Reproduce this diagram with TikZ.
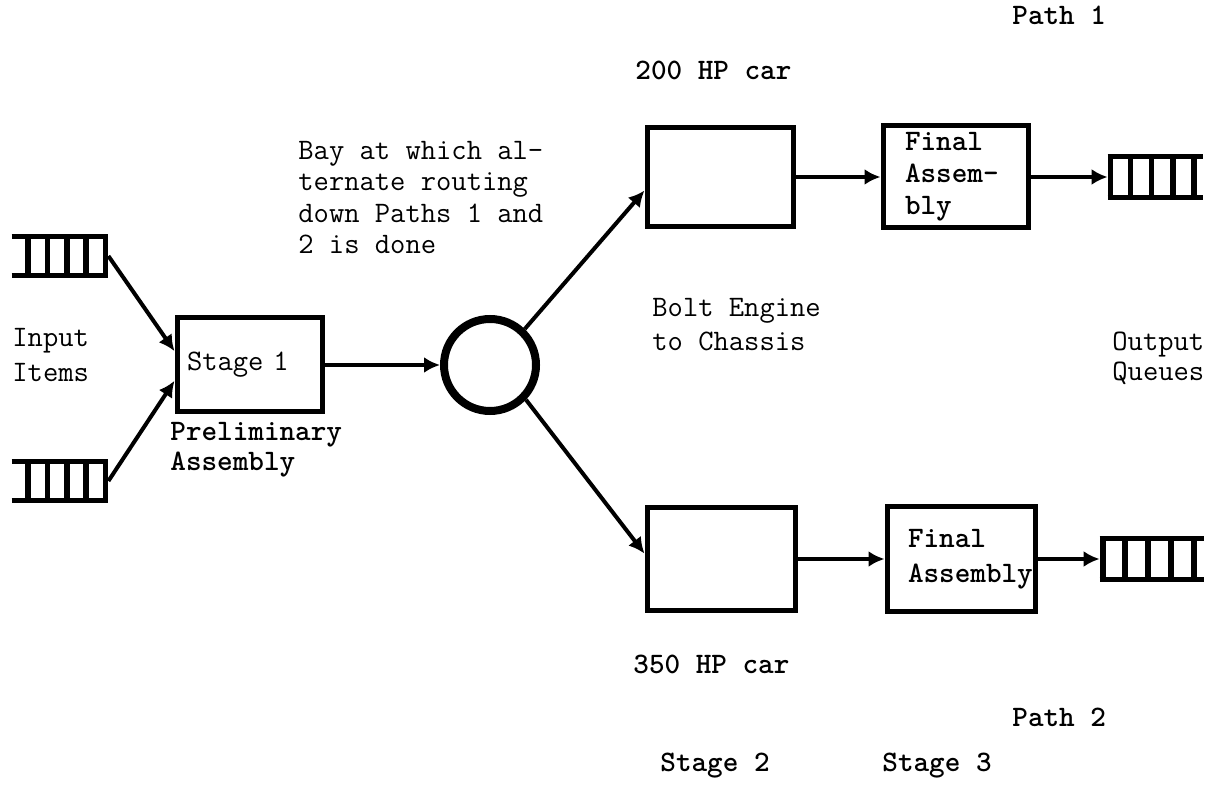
\documentclass[tikz,border=0pt]{standalone}
\usetikzlibrary{arrows.meta,calc}
\begin{document}
\begin{tikzpicture}[x=0.5pt,y=-0.5pt,
  every node/.style={font=\ttfamily\fontsize{14.86}{16}\selectfont},
  lbl/.style={inner sep=0pt,anchor=west,align=left},
  blbl/.style={lbl,font=\ttfamily\bfseries\fontsize{14.86}{16}\selectfont},
  stagebox/.style={draw,line width=2.5pt,rectangle,inner ysep=0pt,align=left},
  qnode/.style={inner sep=0pt,draw=none,minimum width=#1,minimum height=19pt},
  qline/.style={line width=2.2pt},
  qbar/.style={line width=2.8pt},
  flow/.style={line width=2pt,-{Latex[length=8pt,width=8pt]}},
  bay/.style={draw,circle,line width=4pt,minimum size=46pt,inner sep=0pt}]
\useasboundingbox (0,0) rectangle (1220,785);

% queues
\node[qnode=48pt] (q1) at (60,256) {};
\node[qnode=48pt] (q2) at (60,481) {};
\node[qnode=47.5pt,minimum height=20pt] (o1) at (1155.5,177) {};
\node[qnode=52pt,minimum height=20pt] (o2) at (1152,559) {};
\foreach \q in {q1,q2} {
  \draw[qline] (\q.north west) -- (\q.north east) (\q.south west) -- (\q.south east);
  \foreach \f in {0.17,0.37,0.57,0.77,0.97}
    \draw[qbar] ($(\q.south west)!\f!(\q.south east)$) -- ($(\q.north west)!\f!(\q.north east)$);
}
\foreach \q in {o1,o2} {
  \draw[qline] (\q.north west) -- (\q.north east) (\q.south west) -- (\q.south east);
  \foreach \f in {0.03,0.24,0.46,0.68,0.9}
    \draw[qbar] ($(\q.south west)!\f!(\q.south east)$) -- ($(\q.north west)!\f!(\q.north east)$);
}

% boxes
\node[stagebox,inner xsep=5pt,text width=62.5pt,minimum height=47pt] (s1) at (249.5,365) {Stage 1};
\node[bay] (c) at (490,365) {};
\node[stagebox,minimum width=73pt,minimum height=49.5pt] (b1) at (720,177) {};
\node[stagebox,minimum width=74pt,minimum height=51.5pt] (b2) at (721,559) {};
\node[stagebox,inner xsep=11pt,text width=50.5pt,minimum height=51pt,
  font=\ttfamily\bfseries\fontsize{14.86}{16}\selectfont] (f1) at (955.5,177) {Final\\Assem-\\bly};
\node[stagebox,inner xsep=10.5pt,text width=53pt,minimum height=52.5pt,
  font=\ttfamily\bfseries\fontsize{14.86}{17.5}\selectfont] (f2) at (961,559) {Final\\Assembly};

% connectors
\draw[flow] (q1.east) -- ($(s1.north west)!0.36!(s1.south west)$);
\draw[flow] (q2.east) -- ($(s1.north west)!0.66!(s1.south west)$);
\draw[flow] (s1.east) -- (c.west);
\draw[flow] (c.46) -- ($(b1.north west)!0.63!(b1.south west)$);
\draw[flow] (c.-44) -- ($(b2.north west)!0.45!(b2.south west)$);
\draw[flow] (b1.east) -- (f1.west);
\draw[flow] (b2.east) -- (f2.west);
\draw[flow] (f1.east) -- (o1.west);
\draw[flow] (f2.east) -- (o2.west);

% labels
\node[blbl] (p1) at (1012,15) {Path 1};
\node[blbl] (hp200) at (635,70) {200 HP car};
\node[lbl,font=\ttfamily\fontsize{14.86}{15.8}\selectfont] (baytxt) at (298,197.5) {Bay at which al-\\ternate routing\\down Paths 1 and\\2 is done};
\node[lbl,font=\ttfamily\fontsize{14.86}{17}\selectfont] (bolt) at (652,325) {Bolt Engine\\to Chassis};
\node[lbl,font=\ttfamily\fontsize{14.86}{17.5}\selectfont] (inp) at (12,355) {Input\\Items};
\node[blbl,font=\ttfamily\bfseries\fontsize{14.86}{15}\selectfont] (prel) at (170,450) {Preliminary\\Assembly};
\node[lbl,font=\ttfamily\fontsize{14.86}{15}\selectfont] (outq) at (1112,358) {Output\\Queues};
\node[blbl] (hp350) at (633,664) {350 HP car};
\node[blbl] (p2) at (1012,717) {Path 2};
\node[blbl] (st2) at (660,766) {Stage 2};
\node[blbl] (st3) at (882,766) {Stage 3};
\end{tikzpicture}
\end{document}
